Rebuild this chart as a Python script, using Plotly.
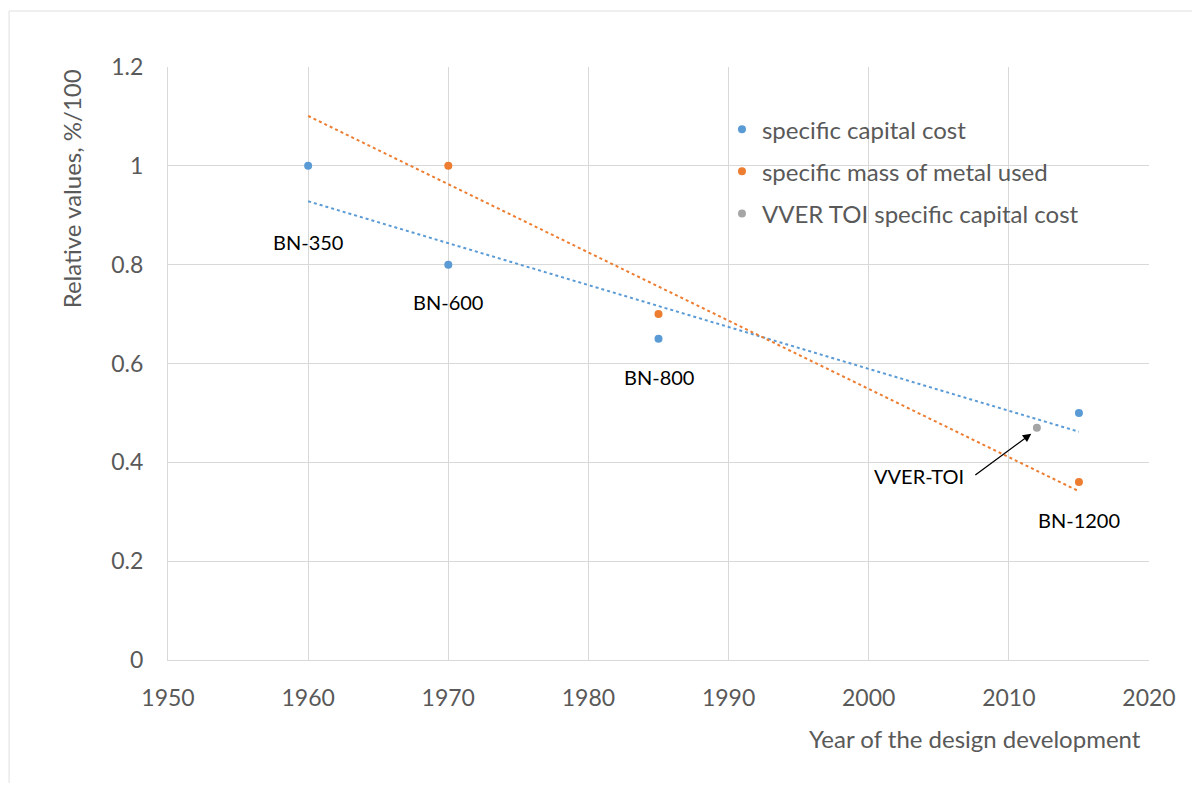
import numpy as np
import plotly.graph_objects as go

# ---- data ----
cap_years = [1960, 1970, 1985, 2015]
cap_values = [1.0, 0.8, 0.65, 0.5]
metal_years = [1970, 1985, 2015]
metal_values = [1.0, 0.7, 0.36]
vver_years = [2012]
vver_values = [0.47]
series_names = ["specific capital cost", "specific mass of metal used", "VVER TOI specific capital cost"]
label_texts = ["BN-350", "BN-600", "BN-800", "BN-1200", "VVER-TOI"]
label_years = [1960, 1970, 1985, 2015, 2003.6]
label_values = [0.845, 0.725, 0.573, 0.283, 0.372]
x_ticks = [1950, 1960, 1970, 1980, 1990, 2000, 2010, 2020]
y_ticks = [0, 0.2, 0.4, 0.6, 0.8, 1.0, 1.2]
y_tick_text = ["0", "0.2", "0.4", "0.6", "0.8", "1", "1.2"]

BLUE = "#5B9BD5"
ORANGE = "#ED7D31"
GREY = "#A5A5A5"
FONT = "Lato"
TXT = "#595959"

fig = go.Figure()

# linear trendlines (least squares), drawn from 1960 to 2015 like the original
trend_x = np.array([1960, 2015])
b1 = np.polyfit(cap_years, cap_values, 1)
b2 = np.polyfit(metal_years, metal_values, 1)
fig.add_trace(go.Scatter(x=trend_x, y=np.polyval(b1, trend_x), mode="lines",
                         line=dict(color=BLUE, width=2, dash="dot"), showlegend=False, hoverinfo="skip"))
fig.add_trace(go.Scatter(x=trend_x, y=np.polyval(b2, trend_x), mode="lines",
                         line=dict(color=ORANGE, width=2, dash="dot"), showlegend=False, hoverinfo="skip"))

fig.add_trace(go.Scatter(x=cap_years, y=cap_values, mode="markers", name=series_names[0],
                         legendgroup="a", marker=dict(color=BLUE, size=8)))
fig.add_trace(go.Scatter(x=metal_years, y=metal_values, mode="markers", name=series_names[1],
                         legendgroup="b", marker=dict(color=ORANGE, size=8)))
fig.add_trace(go.Scatter(x=vver_years, y=vver_values, mode="markers", name=series_names[2],
                         legendgroup="c", marker=dict(color=GREY, size=8)))

annotations = []
for t, xv, yv in zip(label_texts, label_years, label_values):
    annotations.append(dict(x=xv, y=yv, xref="x", yref="y", text=t, showarrow=False,
                            font=dict(family=FONT, size=20, color="#000000")))
# arrow to VVER-TOI point
annotations.append(dict(x=2011.6, y=0.458, xref="x", yref="y", ax=2007.5, ay=0.372,
                        axref="x", ayref="y", text="", showarrow=True, arrowhead=2,
                        arrowsize=1.3, arrowwidth=1.3, arrowcolor="#000000"))
annotations.append(dict(x=0.994, y=-0.1045, xref="paper", yref="paper", xanchor="right",
                        yanchor="top", text="Year of the design development", showarrow=False,
                        font=dict(family=FONT, size=24, color=TXT)))
annotations.append(dict(x=-0.098, y=1.0, xref="paper", yref="paper", xanchor="center",
                        yanchor="top", textangle=-90, text="Relative values, %/100",
                        showarrow=False, font=dict(family=FONT, size=24, color=TXT)))
fig.update_layout(annotations=annotations)

fig.update_xaxes(range=[1950, 2020], tickvals=x_ticks, showgrid=True, gridcolor="#D9D9D9",
                 gridwidth=1, zeroline=False, showline=True, linecolor="#D9D9D9",
                 ticks="", tickfont=dict(family=FONT, size=23, color=TXT), ticklabelstandoff=17)
fig.update_yaxes(range=[0, 1.2], tickvals=y_ticks, ticktext=y_tick_text,
                 showgrid=True, gridcolor="#D9D9D9", gridwidth=1, zeroline=False,
                 showline=True, linecolor="#D9D9D9", ticks="",
                 tickfont=dict(family=FONT, size=23, color=TXT), ticklabelstandoff=19)

fig.update_layout(
    width=1184, height=775,
    margin=dict(l=160, r=43, t=59, b=123),
    paper_bgcolor="white", plot_bgcolor="white",
    font=dict(family=FONT, color=TXT),
    legend=dict(x=0.5647, y=0.9325, xanchor="left", yanchor="top", bgcolor="rgba(255,255,255,0)",
                font=dict(family=FONT, size=24, color=TXT), tracegroupgap=8, itemwidth=30),
    shapes=[
        dict(type="line", xref="paper", yref="paper", x0=-0.162, x1=1.05, y0=1.0944, y1=1.0944,
             line=dict(color="#E0E0E0", width=1)),
        dict(type="line", xref="paper", yref="paper", x0=-0.162, x1=-0.162, y0=1.0944, y1=-0.25,
             line=dict(color="#E0E0E0", width=1)),
    ],
)

fig.write_html("out.html")
